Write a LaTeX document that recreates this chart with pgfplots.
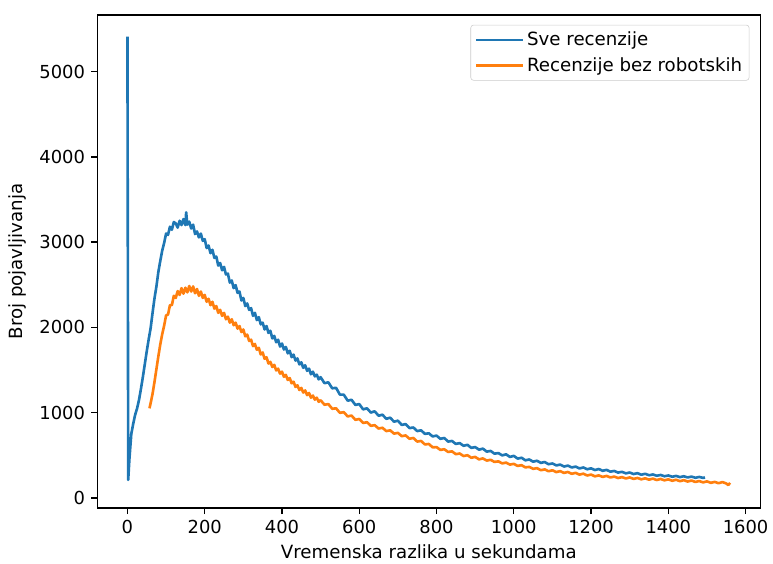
\documentclass[border=0pt]{standalone}
\usepackage{pgfplots}
\pgfplotsset{compat=1.18}
\usepackage{fontspec}
\setmainfont{DejaVu Sans}
\definecolor{mplblue}{HTML}{1F77B4}
\definecolor{mplorange}{HTML}{FF7F0E}
\begin{document}
\begin{tikzpicture}
\begin{axis}[
  scale only axis,
  width=481pt, height=357.8pt,
  xmin=-78, xmax=1638, ymin=-120, ymax=5666,
  xtick={0,200,...,1600}, ytick={0,1000,...,5000},
  scaled ticks=false,
  /pgf/number format/assume math mode=true,
  /pgf/number format/1000 sep={},
  tick label style={font=\fontsize{13}{15.5}\selectfont, text=black},
  xticklabel style={yshift=-1pt},
  yticklabel style={xshift=-1pt},
  label style={font=\fontsize{13.2}{15.5}\selectfont, text=black},
  xlabel={Vremenska razlika u sekundama},
  ylabel={Broj pojavljivanja},
  xlabel style={at={(axis description cs:0.5,0)}, anchor=base, yshift=-36.7pt},
  ylabel style={at={(axis description cs:0,0.5)}, anchor=base, yshift=54pt},
  axis line style={line width=1pt, black},
  tick style={line width=1pt, black},
  tick align=outside, major tick length=4.4pt,
  xtick pos=bottom, ytick pos=left,
  legend style={at={(1,1)}, anchor=north east, xshift=-7.9pt, yshift=-7.2pt,
    draw=black!20, rounded corners=2pt, fill=white, fill opacity=0.8, text opacity=1,
    font=\fontsize{13.2}{15.5}\selectfont, inner xsep=3pt, inner ysep=3pt, row sep=3pt,
    legend cell align=left, text=black},
  legend image code/.code={\draw[#1, line width=1.9pt] (0pt,0pt) -- (28.8pt,0pt); \path (0pt,0pt) -- (34pt,0pt);},
  every axis plot/.append style={line width=1.9pt, line join=round},
]
\addplot[mplblue] coordinates {
(0,5410)(2,210)(5,450)(10,750)(15,870)(20,975)(25,1050)(30,1150)(35,1280)(40,1420)
(45,1570)(50,1720)(55,1860)(60,1990)(65,2170)(70,2340)(75,2480)(80,2650)(85,2780)(90,2900)
(95,2990)(100,3100)(105,3085)(110,3180)(115,3145)(120,3235)(125,3220)(130,3170)(135,3250)(140,3200)
(145,3270)(150,3200)(152,3350)(155,3205)(160,3240)(165,3160)(170,3205)(175,3095)(180,3125)(185,3055)
(190,3100)(195,3015)(200,3035)(205,2930)(210,2960)(215,2870)(220,2910)(225,2815)(230,2830)(235,2725)
(240,2755)(245,2670)(250,2710)(255,2620)(260,2630)(265,2525)(270,2550)(275,2460)(280,2495)(285,2405)
(290,2420)(295,2315)(300,2345)(305,2250)(310,2280)(315,2205)(320,2225)(325,2135)(330,2170)(335,2085)
(340,2120)(345,2035)(350,2055)(355,1975)(360,2015)(365,1935)(370,1960)(375,1870)(380,1900)(385,1825)
(390,1855)(395,1775)(400,1810)(405,1740)(410,1770)(415,1695)(420,1725)(425,1650)(430,1680)(435,1610)
(440,1635)(445,1565)(450,1590)(455,1525)(460,1555)(465,1490)(470,1515)(475,1450)(480,1480)(485,1425)
(490,1445)(495,1390)(500,1415)(510,1345)(520,1355)(530,1285)(540,1290)(550,1210)(560,1210)(570,1140)
(580,1150)(590,1090)(600,1100)(610,1038)(620,1050)(630,1000)(640,1015)(650,963)(660,975)(670,927)
(680,940)(690,893)(700,905)(710,855)(720,865)(730,818)(740,825)(750,783)(760,792)(770,750)
(780,757)(790,720)(800,730)(810,692)(820,702)(830,660)(840,667)(850,632)(860,642)(870,610)
(880,622)(890,586)(900,595)(910,565)(920,577)(930,542)(940,550)(950,518)(960,525)(970,498)
(980,510)(990,480)(1000,492)(1010,460)(1020,470)(1030,440)(1040,450)(1050,424)(1060,435)(1070,410)
(1080,420)(1090,394)(1100,403)(1110,380)(1120,390)(1130,367)(1140,378)(1150,356)(1160,366)(1170,345)
(1180,356)(1190,335)(1200,346)(1210,326)(1220,338)(1230,317)(1240,328)(1250,307)(1260,315)(1270,296)
(1280,305)(1290,287)(1300,297)(1310,279)(1320,289)(1330,271)(1340,282)(1350,265)(1360,274)(1370,259)
(1380,268)(1390,253)(1400,262)(1410,247)(1420,257)(1430,243)(1440,253)(1450,239)(1460,249)(1470,235)
(1480,245)(1490,234)(1495,238)
};
\addlegendentry{Sve recenzije}
\addplot[mplorange] coordinates {
(57,1050)(60,1110)(65,1220)(70,1360)(75,1510)(80,1660)(85,1800)(90,1920)(95,2020)(100,2140)
(105,2150)(110,2260)(115,2260)(120,2370)(125,2345)(130,2425)(135,2380)(140,2460)(145,2395)(150,2465)
(155,2410)(160,2485)(165,2420)(170,2480)(175,2400)(180,2450)(185,2370)(190,2420)(195,2345)(200,2380)
(205,2300)(210,2335)(215,2260)(220,2300)(225,2220)(230,2250)(235,2170)(240,2205)(245,2135)(250,2170)
(255,2095)(260,2125)(265,2055)(270,2095)(275,2025)(280,2055)(285,1985)(290,2015)(295,1945)(300,1975)
(305,1895)(310,1915)(315,1840)(320,1855)(325,1780)(330,1805)(335,1737)(340,1760)(345,1682)(350,1705)
(355,1632)(360,1650)(365,1575)(370,1595)(375,1535)(380,1560)(385,1495)(390,1515)(395,1457)(400,1480)
(405,1420)(410,1442)(415,1383)(420,1405)(425,1344)(430,1362)(435,1301)(440,1320)(445,1265)(450,1290)
(455,1235)(460,1260)(465,1205)(470,1230)(475,1175)(480,1200)(485,1152)(490,1175)(495,1127)(500,1145)
(510,1092)(520,1100)(530,1045)(540,1050)(550,997)(560,1005)(570,955)(580,965)(590,915)(600,925)
(610,878)(620,887)(630,845)(640,852)(650,813)(660,822)(670,783)(680,792)(690,753)(700,762)
(710,723)(720,732)(730,693)(740,702)(750,660)(760,667)(770,626)(780,632)(790,592)(800,595)
(810,562)(820,570)(830,538)(840,545)(850,512)(860,520)(870,490)(880,500)(890,470)(900,480)
(910,451)(920,462)(930,437)(940,446)(950,421)(960,428)(970,404)(980,413)(990,390)(1000,398)
(1010,374)(1020,383)(1030,357)(1040,363)(1050,340)(1060,348)(1070,324)(1080,333)(1090,312)(1100,323)
(1110,302)(1120,313)(1130,292)(1140,303)(1150,282)(1160,293)(1170,272)(1180,283)(1190,262)(1200,273)
(1210,252)(1220,263)(1230,245)(1240,257)(1250,239)(1260,249)(1270,232)(1280,243)(1290,227)(1300,239)
(1310,222)(1320,233)(1330,217)(1340,229)(1350,213)(1360,225)(1370,209)(1380,221)(1390,205)(1400,217)
(1410,200)(1420,212)(1430,195)(1440,207)(1450,191)(1460,203)(1470,186)(1480,197)(1490,181)(1500,193)
(1510,176)(1520,187)(1530,171)(1540,185)(1550,168)(1555,150)(1560,175)
};
\addlegendentry{Recenzije bez robotskih}
\end{axis}
\path (current axis.south west) ++(-70.6pt,-38.9pt);
\path (current axis.north east) ++(5pt,10.8pt);
\end{tikzpicture}
\end{document}
